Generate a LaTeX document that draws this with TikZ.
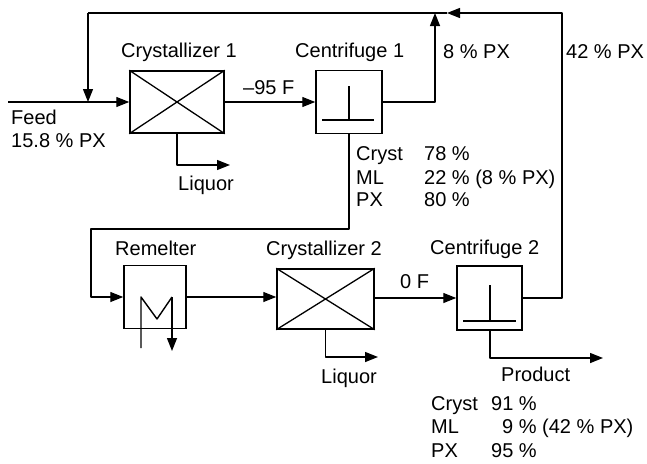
\documentclass[tikz,border=0pt]{standalone}
\usepackage{fontspec}
\setmainfont{Liberation Sans}
\usetikzlibrary{arrows.meta}
\tikzset{
  unit/.style={draw,line width=1.5pt,inner sep=0pt,rectangle},
  flow/.style={line width=1.4pt,line join=round,-{Triangle[length=13pt,width=10pt]}},
  plainflow/.style={line width=1.4pt,line join=round},
  thinpart/.style={line width=1.3pt},
  lab/.style={anchor=base west,inner sep=0pt,font=\fontsize{20}{22}\selectfont}
}
\begin{document}
\begin{tikzpicture}[x=1pt,y=-1pt]
\useasboundingbox (0,0) rectangle (647,463);
% units
\node[unit,minimum width=94pt,minimum height=62pt] (cr1) at (177,102) {};
\node[unit,minimum width=66pt,minimum height=63pt] (ce1) at (349,102) {};
\node[unit,minimum width=62pt,minimum height=63pt] (rem) at (155,297) {};
\node[unit,minimum width=97pt,minimum height=60pt] (cr2) at (325.5,299) {};
\node[unit,minimum width=65pt,minimum height=64pt] (ce2) at (489.5,298) {};
% crystallizer crosses
\draw[thinpart] (cr1.north west) -- (cr1.south east) (cr1.north east) -- (cr1.south west);
\draw[thinpart] (cr2.north west) -- (cr2.south east) (cr2.north east) -- (cr2.south west);
% centrifuge symbols
\draw[thinpart] (322,120) -- (374,120) (349,86) -- (349,120);
\draw[thinpart] (463,321) -- (516,321) (490,285) -- (490,321);
% labels
\node[lab] (tcr1) at (121,57) {Crystallizer 1};
\node[lab] (tce1) at (295,57) {Centrifuge 1};
\node[lab] (tfeed) at (11,124) {Feed};
\node[lab] (tfeedb) at (11,147) {15.8 \% PX};
\node[lab] (tliq1) at (178,190) {Liquor};
\node[lab] (t95) at (243,94) {–95 F};
\node[lab] (t8) at (443,58) {8 \% PX};
\node[lab] (t42) at (566,58) {42 \% PX};
\node[lab] (ta1) at (356,160) {Cryst};
\node[lab] (ta2) at (424,160) {78 \%};
\node[lab] (tb1) at (356,184) {ML};
\node[lab] (tb2) at (424,184) {22 \% (8 \% PX)};
\node[lab] (tc1) at (356,206) {PX};
\node[lab] (tc2) at (424,206) {80 \%};
\node[lab] (trem) at (115,255) {Remelter};
\node[lab] (tcr2) at (266,255) {Crystallizer 2};
\node[lab] (tce2) at (430,254) {Centrifuge 2};
\node[lab] (t0) at (400,288) {0 F};
\node[lab] (tliq2) at (321,383) {Liquor};
\node[lab] (tprod) at (501,381) {Product};
\node[lab] (td1) at (431,410) {Cryst};
\node[lab] (td2) at (491,410) {91 \%};
\node[lab] (te1) at (431,433) {ML};
\node[lab] (te2) at (502,433) {9 \% (42 \% PX)};
\node[lab] (tf1) at (431,457) {PX};
\node[lab] (tf2) at (491,457) {95 \%};
% junction and end points
\coordinate (feedin) at (8,102);
\coordinate (recyc) at (88,102);
\coordinate (topl) at (88,13);
\coordinate (join8) at (435,13);
\coordinate (topr) at (562,13);
\coordinate (leftarrow) at (447,13);
\coordinate (liq1) at (230,165);
\coordinate (liq2) at (378,357);
\coordinate (prod) at (603,358);
\coordinate (ml) at (349,229);
\coordinate (mr) at (91,229);
\coordinate (mlin) at (141,297);
\coordinate (mlout) at (141,348);
\coordinate (mbot) at (157,319);
\coordinate (mrin) at (172,297);
\coordinate (mrout) at (172,351);
\coordinate (ce2out) at (490,330);
% connectors
\draw[flow] (feedin) -- (cr1.west);
\draw[flow] (topl) -- (recyc);
\draw[plainflow] (join8) -- (topl);
\draw[flow] (cr1.east) -- (ce1.west);
\draw[flow] (ce1.east) -| (join8);
\draw[plainflow] (leftarrow) -- (join8);
\draw[flow] (ce2.east) -| (topr) -- (leftarrow);
\draw[flow] (cr1.south) |- (liq1);
\draw[flow] (ce1.south) -- (ml) -- (mr) |- (rem.west);
\draw[flow] (rem.east) -- (cr2.west |- rem.east);
\draw[flow] (cr2.east |- ce2.west) -- (ce2.west);
\draw[flow] (cr2.south) |- (liq2);
\draw[flow] (ce2out) |- (prod);
\draw[plainflow] (mlout) -- (mlin) -- (mbot) -- (mrin);
\draw[flow] (mrin) -- (mrout);
\end{tikzpicture}
\end{document}
